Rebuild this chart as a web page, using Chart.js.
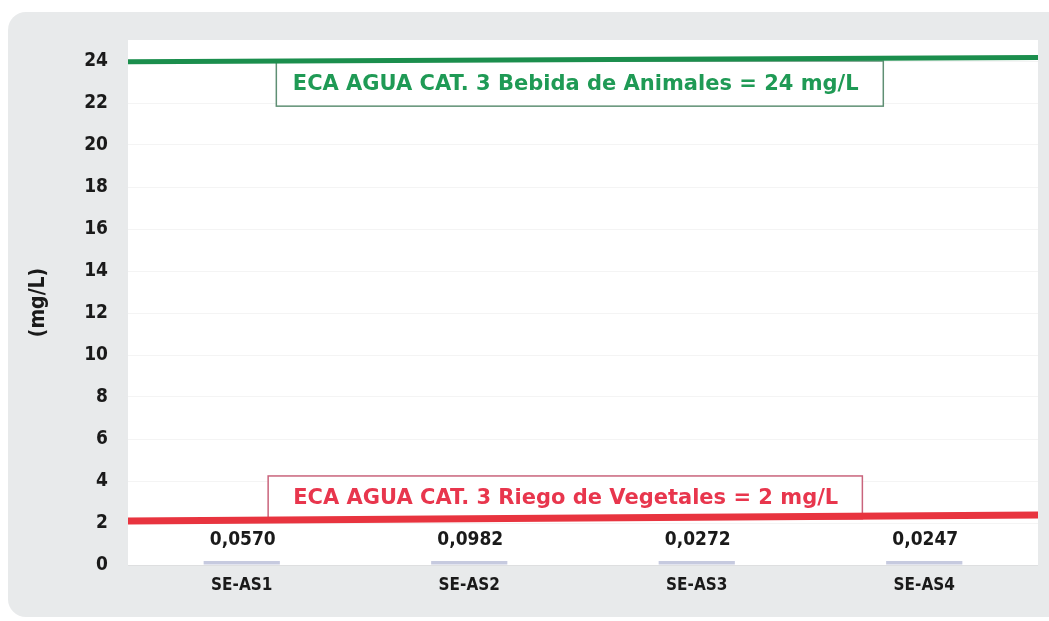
<!DOCTYPE html>
<html>
<head>
<meta charset="utf-8">
<script src="https://cdn.jsdelivr.net/npm/chart.js@4.4.1/dist/chart.umd.min.js"></script>
<style>
  html, body { margin: 0; padding: 0; background: #ffffff; }
  #wrap { width: 1049px; height: 621px; position: relative; }
</style>
</head>
<body>
<div id="wrap"><canvas id="c" width="1049" height="621"></canvas></div>
<script>
// ---- Data ----
const categories = ['SE-AS1', 'SE-AS2', 'SE-AS3', 'SE-AS4'];
const values = [0.0570, 0.0982, 0.0272, 0.0247];
const yTicks = [0, 2, 4, 6, 8, 10, 12, 14, 16, 18, 20, 22, 24];
// limit lines as drawn (slightly skewed in the scan), left end -> right end
const limitAnimales = [23.97, 24.17];
const limitRiego = [2.10, 2.38];
const labelAnimales = 'ECA AGUA CAT. 3 Bebida de Animales = 24 mg/L';
const labelRiego = 'ECA AGUA CAT. 3 Riego de Vegetales = 2 mg/L';
const yTitle = '(mg/L)';

const FONT = '"DejaVu Sans Condensed", "DejaVu Sans", sans-serif';
const FONT_WIDE = '"DejaVu Sans", sans-serif';

// annotation boxes (in scale units: x2 0..1, y in mg/L)
const boxes = [
  { text: labelAnimales, x0: 0.163, x1: 0.830, tx: 0.492, y0: 24.0, y1: 21.85, color: '#1f9a55', border: '#5f8f74' },
  { text: labelRiego,    x0: 0.154, x1: 0.807, tx: 0.481, y0: 4.24, y1: 2.2,  color: '#e8364d', border: '#c9647c' }
];

const panelPlugin = {
  id: 'panel',
  beforeDraw(chart) {
    const ctx = chart.ctx;
    ctx.save();
    ctx.fillStyle = '#ffffff';
    ctx.fillRect(0, 0, chart.width, chart.height);
    ctx.fillStyle = '#e8eaeb';
    ctx.beginPath();
    ctx.roundRect(8, 12, chart.width + 20, chart.height - 16, 18);
    ctx.fill();
    const a = chart.chartArea;
    ctx.fillStyle = '#ffffff';
    ctx.fillRect(a.left, a.top, a.right - a.left, a.bottom - a.top);
    ctx.restore();
  }
};

const boxPlugin = {
  id: 'boxes',
  beforeDatasetsDraw(chart) {
    const ctx = chart.ctx;
    const xs = chart.scales.x2, ys = chart.scales.y;
    ctx.save();
    boxes.forEach(b => {
      const l = xs.getPixelForValue(b.x0), r = xs.getPixelForValue(b.x1);
      const t = ys.getPixelForValue(b.y0), bt = ys.getPixelForValue(b.y1);
      ctx.fillStyle = '#ffffff';
      ctx.fillRect(l, t, r - l, bt - t);
      ctx.strokeStyle = b.border;
      ctx.lineWidth = 1.5;
      ctx.strokeRect(l, t, r - l, bt - t);
      ctx.fillStyle = b.color;
      ctx.font = 'bold 21px ' + FONT_WIDE;
      ctx.textAlign = 'center';
      ctx.textBaseline = 'middle';
      ctx.fillText(b.text, xs.getPixelForValue(b.tx), (t + bt) / 2 + 1);
    });
    ctx.restore();
  }
};

const valueLabelPlugin = {
  id: 'valueLabels',
  afterDatasetsDraw(chart) {
    const ctx = chart.ctx;
    const meta = chart.getDatasetMeta(0);
    const ys = chart.scales.y;
    ctx.save();
    ctx.fillStyle = '#1a1a1a';
    ctx.font = 'bold 19px ' + FONT;
    ctx.textAlign = 'center';
    ctx.textBaseline = 'middle';
    meta.data.forEach((el, i) => {
      const txt = values[i].toFixed(4).replace('.', ',');
      ctx.fillText(txt, el.x + 1, ys.getPixelForValue(0) - 25);
    });
    ctx.restore();
  }
};

new Chart(document.getElementById('c'), {
  type: 'bar',
  data: {
    labels: categories,
    datasets: [
      {
        type: 'bar',
        data: values,
        backgroundColor: '#c6cadf',
        borderWidth: 0,
        minBarLength: 4,
        grouped: false,
        barPercentage: 0.335,
        categoryPercentage: 1.0,
        xAxisID: 'x',
        yAxisID: 'y',
        order: 2
      },
      {
        type: 'line',
        data: [{ x: 0, y: limitAnimales[0] }, { x: 1, y: limitAnimales[1] }],
        borderColor: '#1b8e4d',
        borderWidth: 5,
        pointRadius: 0,
        xAxisID: 'x2',
        yAxisID: 'y',
        order: 1
      },
      {
        type: 'line',
        data: [{ x: 0, y: limitRiego[0] }, { x: 1, y: limitRiego[1] }],
        borderColor: '#e8343f',
        borderWidth: 7,
        pointRadius: 0,
        xAxisID: 'x2',
        yAxisID: 'y',
        order: 1
      }
    ]
  },
  options: {
    responsive: false,
    animation: false,
    layout: { padding: { left: 0, right: 11, top: 40, bottom: 0 } },
    plugins: { legend: { display: false }, tooltip: { enabled: false } },
    scales: {
      x: {
        type: 'category',
        offset: true,
        grid: { display: false, drawTicks: false },
        border: { display: false },
        ticks: { color: '#1a1a1a', font: { family: FONT, size: 17, weight: 'bold' }, padding: 10, maxRotation: 0 },
        afterFit(s) { s.height = 56; }
      },
      x2: {
        type: 'linear', min: 0, max: 1, offset: false, display: false
      },
      y: {
        min: 0, max: 25,
        afterBuildTicks(s) { s.ticks = yTicks.map(v => ({ value: v })); },
        grid: { color: 'rgba(0,0,0,0.045)', drawTicks: false },
        border: { display: false },
        ticks: { color: '#1a1a1a', font: { family: FONT, size: 19, weight: 'bold' }, padding: 20 },
        title: { display: true, text: yTitle, color: '#1a1a1a', font: { family: FONT, size: 21, weight: 'bold' }, padding: { top: 26, bottom: 0 } },
        afterFit(s) { s.width = 128; }
      }
    }
  },
  plugins: [panelPlugin, boxPlugin, valueLabelPlugin]
});
</script>
</body>
</html>
